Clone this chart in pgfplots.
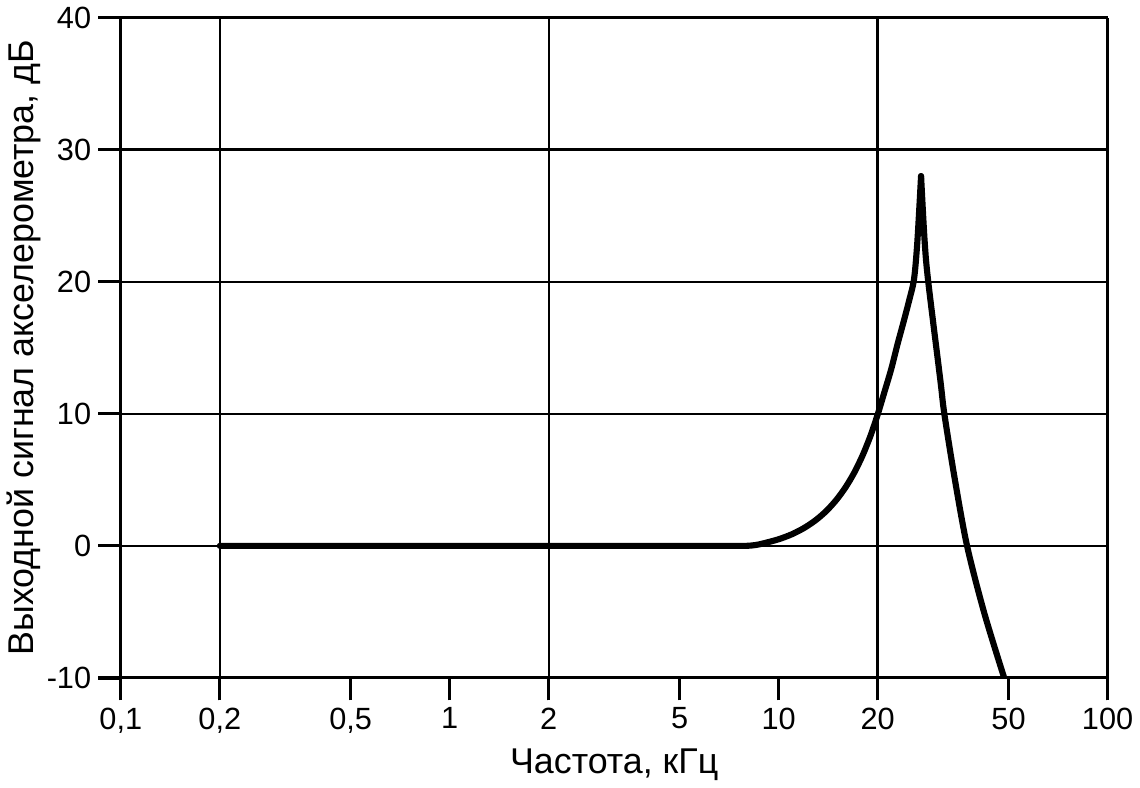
\documentclass[border=0pt]{standalone}
\usepackage{fontspec}
\setmainfont{Liberation Sans}
\usepackage{pgfplots}
\pgfplotsset{compat=1.18}

\begin{document}
\begin{tikzpicture}
\begin{axis}[
    scale only axis,
    width=482pt,
    height=322.5pt,
    xmode=log,
    xmin=0.1, xmax=100,
    ymin=-10, ymax=40,
    axis x line*=bottom,
    axis y line*=left,
    axis line style={-, line width=1.4pt},
    xtick={0.1,0.2,0.5,1,2,5,10,20,50,100},
    xticklabels={{0,1},{0,2},{0,5},1,2,5,10,20,50,100},
    ytick={-10,0,10,20,30,40},
    yticklabels={-10,0,10,20,30,40},
    xminorticks=false,
    tick align=outside,
    major tick length=11pt,
    tick style={black, line width=1.6pt},
    ymajorgrids=true,
    grid style={black, line width=1.2pt},
    extra x ticks={0.2,2,20,100},
    extra x tick labels={},
    extra x tick style={grid=major},
    tick label style={font=\fontsize{15}{18}\selectfont},
    label style={font=\fontsize{17.5}{21}\selectfont},
    xlabel={Частота, кГц},
    ylabel={Выходной сигнал акселерометра, дБ},
    xlabel style={yshift=21pt},
    ylabel style={yshift=-4pt},
]
% rising branch up to the resonance peak
\addplot[black, line width=3pt, line cap=round, smooth, tension=0.5] coordinates {
(0.2,0) (1,0) (5,0) (7.5,0) (8.0,0.0) (8.5,0.06) (9,0.19) (10,0.5)
(11,0.89) (12,1.38) (13,1.97) (14,2.67) (15,3.50) (16,4.46) (17,5.57)
(18,6.85) (19,8.30) (20,9.94) (21,11.7) (22,13.4) (23,15.3) (24,17.0)
(25,18.7) (25.8,20.2) (26.4,23) (27.1,28)
};
% falling branch after the peak
\addplot[black, line width=3pt, line cap=round, smooth, tension=0.5] coordinates {
(27.1,28) (27.8,23) (28.5,20) (31.0,12.6) (31.9,10) (34.3,5.1) (37.4,0)
(42.2,-5.1) (48.5,-10)
};
\end{axis}
\end{tikzpicture}
\end{document}
